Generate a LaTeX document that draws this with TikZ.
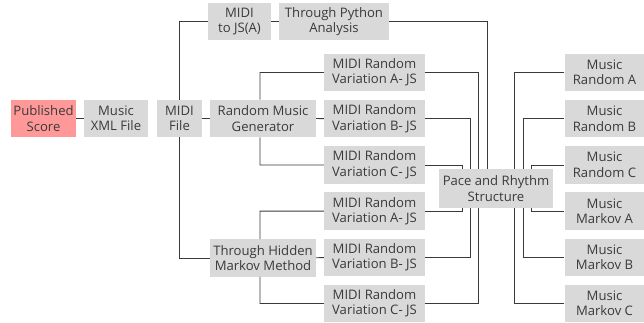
\documentclass[tikz,border=0pt]{standalone}
\usepackage{fontspec}
\setmainfont{Open Sans}
\definecolor{boxgray}{HTML}{D9D9D9}
\definecolor{scorepink}{HTML}{FF9999}
\definecolor{inkgray}{HTML}{3A3A3A}
\begin{document}
\begin{tikzpicture}[x=1pt, y=-1pt, font=\fontsize{13.1}{15.4}\selectfont,
		box/.style={fill=boxgray, text=inkgray, align=center, inner sep=0pt, minimum height=37.5pt},
		link/.style={draw=inkgray, line width=0.8pt}]
			\useasboundingbox (0,0) rectangle (644,323);
			\def\dy{46.2}
			% left chain
			\node[box, fill=scorepink, minimum width=65pt] (score) at (43.5,118.5) {Published\\Score};
			\node[box, minimum width=64pt] (xml) at (116,118.5) {Music\\XML File};
			\node[box, minimum width=45pt] (midi) at (179.5,118.5) {MIDI\\File};
			\node[box, minimum width=63pt] (tojs) at (239.5,21.5) {MIDI\\to JS(A)};
			\node[box, minimum width=110pt] (python) at (334,21.5) {Through Python\\Analysis};
			\node[box, minimum width=106pt] (rmg) at (263,118.5) {Random Music\\Generator};
			\node[box, minimum width=106pt] (hmm) at (263,258) {Through Hidden\\Markov Method};
			% variations
			\foreach \n/\l [count=\i from 0] in {va1/A,vb1/B,vc1/C,va2/A,vb2/B,vc2/C}
				\node[box, minimum width=101pt] (\n) at (374.5,72.5+\i*\dy) {MIDI Random\\Variation \l- JS};
			\node[box, minimum width=114pt, minimum height=39pt] (pace) at (496,188.5) {Pace and Rhythm\\Structure};
			% outputs
			\foreach \n/\l [count=\i from 0] in {ra/Random A,rb/Random B,rc/Random C,ma/Markov A,mb/Markov B,mc/Markov C}
				\node[box, minimum width=80pt] (\n) at (604.5,72.5+\i*\dy) {Music\\\l};
			% connectors
			\draw[link] (score) -- (xml) (midi) -- (rmg) (tojs) -- (python)
			(midi.north) |- (tojs.west)
			(midi.south) |- (hmm.west);
			\draw[link] ([xshift=-3pt]rmg.north) |- (va1.west) (rmg) -- (vb1) ([xshift=-3pt]rmg.south) |- (vc1.west);
			\draw[link] ([xshift=-3pt]hmm.north) |- (va2.west) (hmm) -- (vb2) ([xshift=-3pt]hmm.south) |- (vc2.west);
			\draw[link] (python.east) -| ([xshift=-9pt]pace.north);
			\foreach \n/\s in {va1/-17.5,vb1/-26,vc1/-34} \draw[link] (\n.east) -| ([xshift=\s pt]pace.north);
			\foreach \n/\s in {va2/-34,vb2/-26,vc2/-17.5} \draw[link] (\n.east) -| ([xshift=\s pt]pace.south);
			\foreach \n/\s in {ra/18,rb/27,rc/35} \draw[link] (\n.west) -| ([xshift=\s pt]pace.north);
			\foreach \n/\s in {ma/35,mb/27,mc/18} \draw[link] (\n.west) -| ([xshift=\s pt]pace.south);
		\end{tikzpicture}
\end{document}
